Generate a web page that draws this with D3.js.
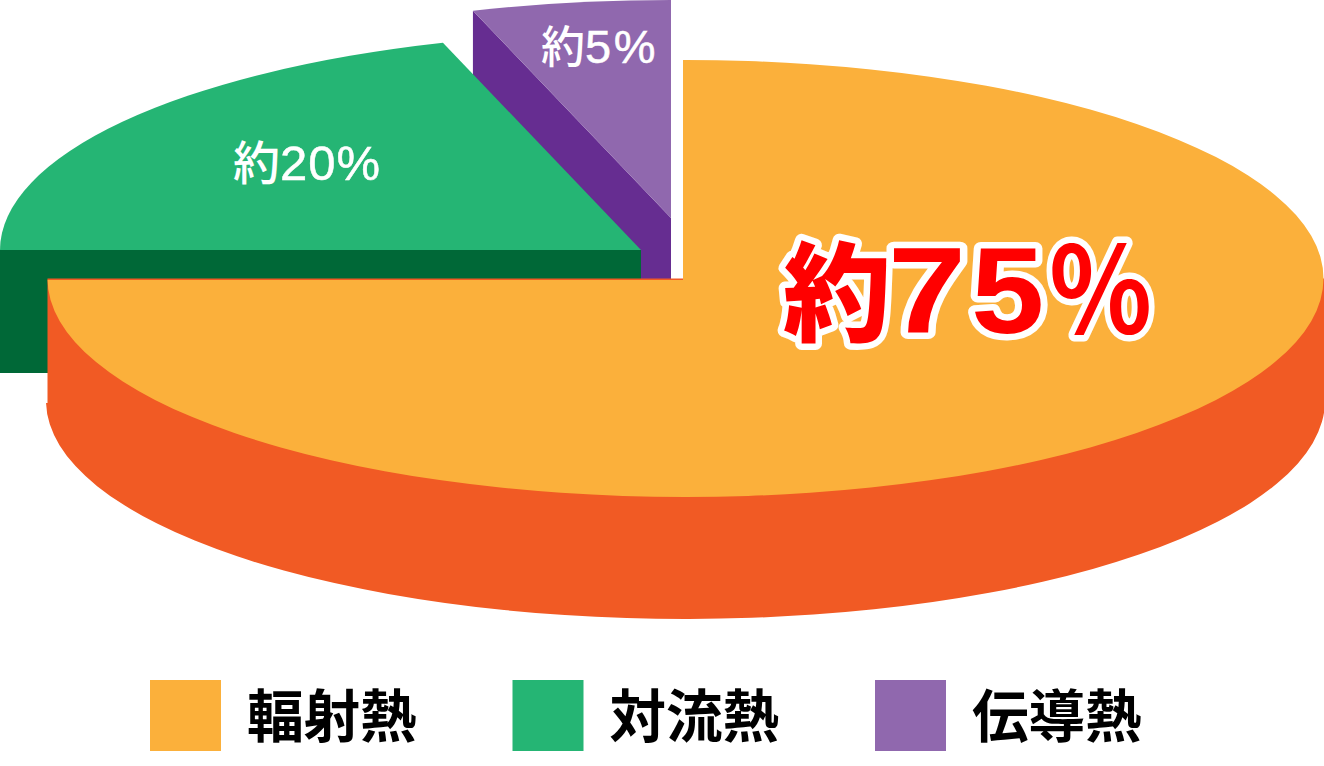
<!DOCTYPE html>
<html><head><meta charset="utf-8">
<script src="https://cdn.jsdelivr.net/npm/d3@7/dist/d3.min.js"></script>
<style>html,body{margin:0;padding:0;background:#fff}svg{display:block}</style>
</head><body><svg id="c" width="1324" height="766"></svg>
<script>
const categories = ["輻射熱","対流熱","伝導熱"];
const values = [75,20,5];
const valueLabels = ["約75%","約20%","約5%"];
const topColors = ["#FBB03B","#25B574","#9068AE"];
const wallColors = ["#F15A24","#006837","#662D91"];

// per-slice exploded layout: ellipse centre, radii, apex, wall depth
const layout=[
 {cx:685.5,cy:278.5,rx:638,ry:218.5,ax:683,ay:280,d:122},
 {cx:641,cy:250,rx:641,ry:218,ax:641,ay:250,d:123},
 {cx:671,cy:218,rx:641,ry:218,ax:671,ay:218,d:123}
];
const CJK='"Noto Sans CJK JP"', LAT='"Liberation Sans"';
const svg=d3.select("#c");
const arcs=d3.pie().sort(null)(values);
const pt=(l,a)=>[l.cx+l.rx*Math.sin(a),l.cy-l.ry*Math.cos(a)];

function topPath(d,l,i){
  const s=pt(l,d.startAngle),e=pt(l,d.endAngle);
  let str=`M${l.ax},${l.ay}`;
  if(i===0) str+=`L${l.ax},${s[1]}`;
  str+=`L${s[0]},${s[1]}A${l.rx},${l.ry} 0 ${d.endAngle-d.startAngle>Math.PI?1:0} 1 ${e[0]},${e[1]}`;
  if(i===0) str+=`L${e[0]},${l.ay}`;
  return str+"Z";
}
function wallPath(d,l,i){
  if(i===0){
    const b={...l,rx:l.rx+1.5,cy:l.cy+l.d};           // lower rim, slightly wider
    const r=pt(b,Math.PI/2),lf=pt(b,3*Math.PI/2-Math.asin(2.5/l.ry));
    const tl=pt(l,3*Math.PI/2);
    return `M${r[0]},${l.cy}L${r[0]},${r[1]}A${b.rx},${b.ry} 0 0 1 ${lf[0]},${lf[1]}L${tl[0]},${lf[1]}L${tl[0]},${tl[1]}Z`;
  }
  const s=pt(l,d.startAngle);
  return `M${s[0]},${s[1]}L${l.ax},${l.ay}L${l.ax},${l.ay+l.d}L${s[0]},${s[1]+l.d}Z`;
}
const g=svg.append("g");
[2,1,0].forEach(i=>{
  g.append("path").attr("d",wallPath(arcs[i],layout[i],i)).attr("fill",wallColors[i]);
  g.append("path").attr("d",topPath(arcs[i],layout[i],i)).attr("fill",topColors[i]);
});

// small white value labels
const smallPos=[null,{x:233,y:180,fs:49,cjk:47,ls:1},{x:541,y:63,fs:47,cjk:44,ls:2.5}];
[1,2].forEach(i=>{
  const p=smallPos[i],t=valueLabels[i];
  const tx=svg.append("text").attr("x",p.x).attr("y",p.y).attr("font-size",p.fs)
    .attr("fill","#fff").attr("stroke","#fff").attr("stroke-width",0.5).attr("font-family",LAT);
  tx.append("tspan").attr("font-family",CJK).attr("font-size",p.cjk).attr("font-weight",500).attr("stroke","none").text(t[0]);
  tx.append("tspan").attr("letter-spacing",p.ls).text(t.slice(1));
});

// large red label, glyph by glyph: two passes (white halo, red fill)
const bigGlyphs=Array.from(valueLabels[0]);
const bigStyle=[
 {x:783,y:333,font:CJK,fs:108,w:900,sx:1},
 {x:888,y:333,font:LAT,fs:122,w:700,sx:1.15},
 {x:971,y:333,font:LAT,fs:122,w:700,sx:1.08},
 {x:1049,y:333,font:CJK,fs:119,w:700,sx:0.9}
];
[true,false].forEach(halo=>{
  bigGlyphs.forEach((c,i)=>{
    const s=bigStyle[i];
    svg.append("text").attr("transform",`translate(${s.x},${s.y}) scale(${s.sx},1)`)
      .attr("font-family",s.font).attr("font-size",s.fs).attr("font-weight",s.w)
      .attr("fill",halo?"#fff":"#f00")
      .attr("stroke",halo?"#fff":"none").attr("stroke-width",halo?13:0).attr("stroke-linejoin","round")
      .text(c);
  });
});

// legend
const legendX=d3.scalePoint().domain(categories).range([150,875]);
const lg=svg.selectAll("g.l").data(categories).join("g").attr("class","l")
  .attr("transform",d=>`translate(${legendX(d)},680)`);
lg.append("rect").attr("width",71).attr("height",71).attr("fill",(d,i)=>topColors[i]);
lg.append("text").attr("x",97).attr("y",57).attr("font-family",CJK).attr("font-weight","700")
  .attr("font-size",56.5).attr("fill","#000").text(d=>d);
</script></body></html>
